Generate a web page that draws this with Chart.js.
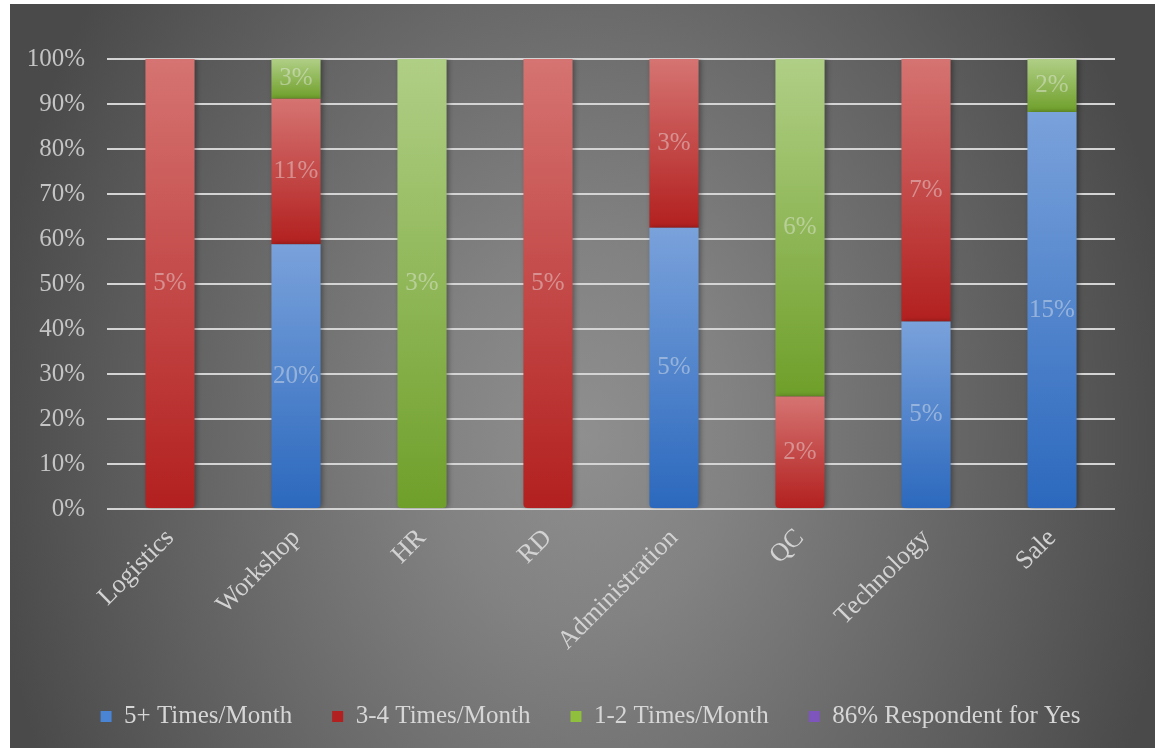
<!DOCTYPE html>
<html>
<head>
<meta charset="utf-8">
<script src="https://cdn.jsdelivr.net/npm/chart.js@4.4.1/dist/chart.umd.min.js"></script>
<style>
  html, body { margin: 0; padding: 0; background: #fff; }
  #wrap {
    position: absolute; left: 10px; top: 4px; width: 1145px; height: 744px;
    background: radial-gradient(ellipse 600px 760px at 50% 58%, #8f8f8f 0%, #828282 25%, #4a4a4a 100%);
  }
</style>
</head>
<body>
<div id="wrap"><canvas id="freqChart"></canvas></div>
<script>
const departments = ['Logistics', 'Workshop', 'HR', 'RD', 'Administration', 'QC', 'Technology', 'Sale'];
// share of respondents (%) per visit frequency
const fivePlus = [0, 20, 0, 0, 5, 0, 5, 15];
const threeFour = [5, 11, 0, 5, 3, 2, 7, 0];
const oneTwo = [0, 3, 3, 0, 0, 6, 0, 2];
const respondentYes = [];
const yTicks = [0, 10, 20, 30, 40, 50, 60, 70, 80, 90, 100];

const raw = [fivePlus, threeFour, oneTwo, respondentYes];
const totals = departments.map((d, i) => raw.reduce((s, arr) => s + (arr[i] || 0), 0));
// each column is scaled to 100%
const shares = raw.map(arr => departments.map((d, i) => arr[i] ? arr[i] / totals[i] * 100 : 0));

const FONT = "'Liberation Serif', serif";

const palette = [
  { top: '#7aa2db', bottom: '#2b68bd', flat: '#4a84d4' },
  { top: '#d57472', bottom: '#b2201f', flat: '#c6302f' },
  { top: '#b0cf86', bottom: '#6f9f2a', flat: '#8fbf3c' },
  { top: '#9a78d0', bottom: '#6a43ad', flat: '#7d55bd' }
];

function segmentStart(ds, i) {
  let s = 0;
  for (let k = 0; k < ds; k++) s += shares[k][i];
  return s;
}

function fillFor(ds) {
  return function (c) {
    const p = palette[ds];
    if (c.type !== 'data' || !c.chart.scales.y) return p.flat;
    const y = c.chart.scales.y;
    const start = segmentStart(ds, c.dataIndex);
    const y0 = y.getPixelForValue(start + shares[ds][c.dataIndex]);
    const y1 = y.getPixelForValue(start);
    if (!isFinite(y0) || !isFinite(y1) || y0 === y1) return p.flat;
    const g = c.chart.ctx.createLinearGradient(0, y0, 0, y1);
    g.addColorStop(0, p.top);
    g.addColorStop(1, p.bottom);
    return g;
  };
}

function radiusFor(ds) {
  return function (c) {
    if (c.type !== 'data') return 0;
    return segmentStart(ds, c.dataIndex) === 0 ? { bottomLeft: 4, bottomRight: 4, topLeft: 0, topRight: 0 } : 0;
  };
}

const names = ['5+ Times/Month', '3-4 Times/Month', '1-2 Times/Month', '86% Respondent for Yes'];

const barStyle = {
  // soft shadow behind the bars, then the value labels on top
  id: 'barStyle',
  afterInit(chart) {
    const legend = chart.legend;
    const fit = legend.fit;
    legend.fit = function () { fit.call(this); this.height = 84; };
    // legend row sits a little right of the canvas centre
    const draw = legend.draw;
    legend.draw = function () {
      const ctx = this.ctx;
      ctx.save();
      ctx.translate(28, 0);
      draw.apply(this, arguments);
      ctx.restore();
    };
  },
  beforeDatasetsDraw(chart) {
    const ctx = chart.ctx;
    ctx.save();
    ctx.shadowColor = 'rgba(0,0,0,0.35)';
    ctx.shadowBlur = 5;
    ctx.shadowOffsetX = 2;
  },
  afterDatasetsDraw(chart) {
    const ctx = chart.ctx;
    ctx.restore();
    ctx.save();
    ctx.font = '25px ' + FONT;
    ctx.fillStyle = 'rgba(240,240,240,0.42)';
    ctx.textAlign = 'center';
    ctx.textBaseline = 'middle';
    raw.forEach((arr, ds) => {
      const meta = chart.getDatasetMeta(ds);
      meta.data.forEach((bar, i) => {
        if (!arr[i]) return;
        ctx.fillText(arr[i] + '%', bar.x, (bar.y + bar.base) / 2);
      });
    });
    ctx.restore();
  }
};

new Chart(document.getElementById('freqChart'), {
  type: 'bar',
  data: {
    labels: departments,
    datasets: shares.map((d, k) => ({
      label: names[k],
      data: d,
      backgroundColor: fillFor(k),
      borderRadius: radiusFor(k),
      borderSkipped: false,
      borderWidth: 0,
      categoryPercentage: 1,
      barPercentage: 0.39
    }))
  },
  options: {
    responsive: true,
    maintainAspectRatio: false,
    animation: false,
    layout: { padding: { top: 55, right: 40, left: 0, bottom: 0 } },
    plugins: {
      tooltip: { enabled: false },
      legend: {
        position: 'bottom',
        labels: {
          color: '#d6d6d6',
          font: { family: FONT, size: 25 },
          boxWidth: 11,
          boxHeight: 11,
          padding: 40
        }
      }
    },
    scales: {
      x: {
        stacked: true,
        grid: { display: false },
        border: { display: false },
        ticks: {
          color: '#d2d2d2',
          font: { family: FONT, size: 26 },
          minRotation: 45,
          maxRotation: 45,
          padding: 6
        },
        afterFit(scale) { scale.height = 155; }
      },
      y: {
        stacked: true,
        min: 0,
        max: 100,
        border: { display: false },
        grid: { color: '#d4d4d4', lineWidth: 2, drawTicks: false },
        afterBuildTicks(scale) { scale.ticks = yTicks.map(v => ({ value: v })); },
        ticks: {
          color: '#c4c4c4',
          font: { family: FONT, size: 25 },
          padding: 22,
          callback: v => v + '%'
        },
        afterFit(scale) { scale.width = 97; }
      }
    }
  },
  plugins: [barStyle]
});
</script>
</body>
</html>
